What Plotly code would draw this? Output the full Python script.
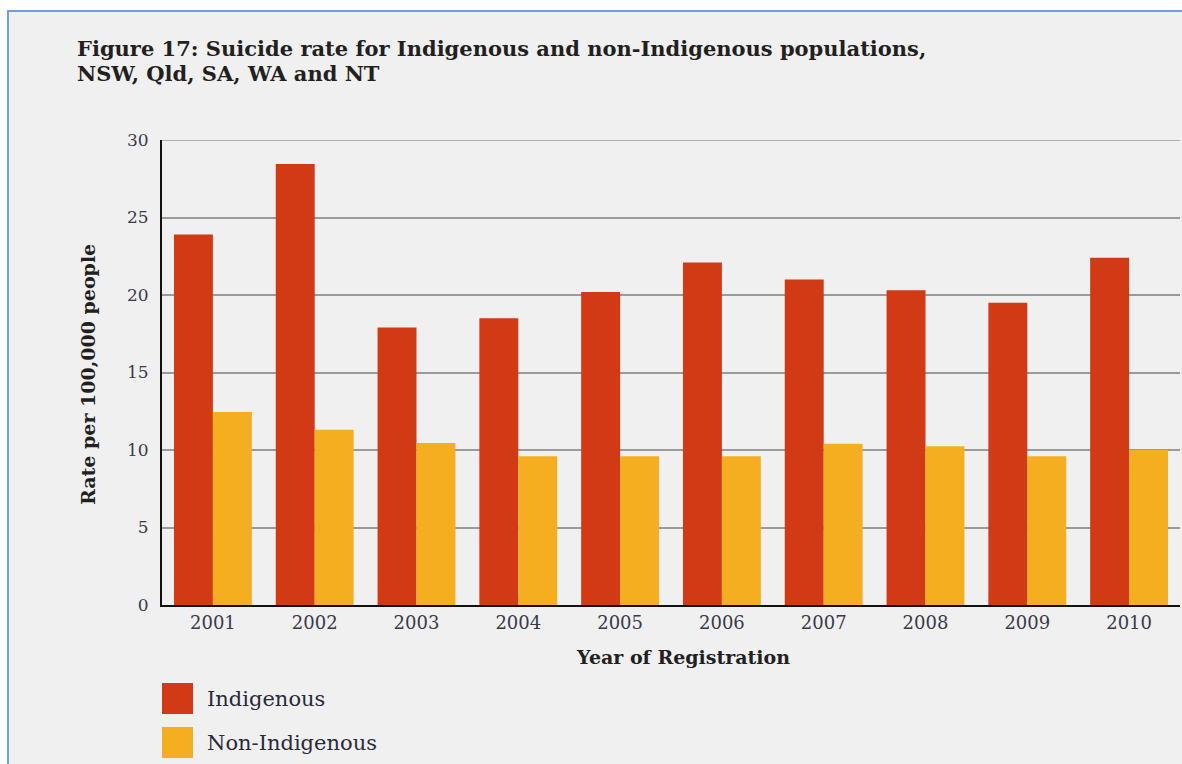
import plotly.graph_objects as go

years = ["2001", "2002", "2003", "2004", "2005", "2006", "2007", "2008", "2009", "2010"]
indigenous = [23.9, 28.45, 17.9, 18.5, 20.2, 22.1, 21.0, 20.3, 19.5, 22.4]
non_indigenous = [12.45, 11.3, 10.45, 9.6, 9.6, 9.6, 10.4, 10.25, 9.6, 10.0]
series_names = ["Indigenous", "Non-Indigenous"]
series_colors = ["#d23a15", "#f5ae1f"]
y_ticks = [0, 5, 10, 15, 20, 25, 30]

W, H = 1182, 764
ML, MR, MT, MB = 162, 2, 140, 159
PW, PH = W - ML - MR, H - MT - MB


def px(x):
    return (x - ML) / PW


def py(y):
    return (H - MB - y) / PH


fig = go.Figure()
for name, vals, col in zip(series_names, [indigenous, non_indigenous], series_colors):
    fig.add_trace(go.Bar(x=years, y=vals, name=name, marker=dict(color=col, line=dict(width=0)),
                         showlegend=False))

serif = "DejaVu Serif"
text_col = "#231f20"

shapes = [
    dict(type="rect", xref="paper", yref="paper", x0=px(8), x1=px(1200), y0=py(790), y1=py(11),
         fillcolor="#f0f0f0", line=dict(color="#6f9fdc", width=2), layer="below"),
    dict(type="line", xref="paper", yref="y", x0=0, x1=1, y0=y_ticks[-1], y1=y_ticks[-1],
         line=dict(color="#9a9a9a", width=1.5), layer="below"),
]
annotations = [
    dict(text="<b>Figure 17: Suicide rate for Indigenous and non-Indigenous populations,</b>",
         xref="paper", yref="paper", x=px(75), y=py(48), xanchor="left", yanchor="middle",
         showarrow=False, font=dict(family=serif, size=21, color=text_col)),
    dict(text="<b>NSW, Qld, SA, WA and NT</b>",
         xref="paper", yref="paper", x=px(75), y=py(73), xanchor="left", yanchor="middle",
         showarrow=False, font=dict(family=serif, size=21, color=text_col)),
    dict(text="<b>Rate per 100,000 people</b>", textangle=-90, xref="paper", yref="paper",
         x=px(88), y=py(375), xanchor="center", yanchor="middle", showarrow=False,
         font=dict(family=serif, size=19, color=text_col)),
    dict(text="<b>Year of Registration</b>", xref="paper", yref="paper",
         x=px(683), y=py(657), xanchor="center", yanchor="middle", showarrow=False,
         font=dict(family=serif, size=19, color=text_col)),
]
leg_rows = [(683, 714), (727, 758)]
for (top, bot), name, col in zip(leg_rows, series_names, series_colors):
    shapes.append(dict(type="rect", xref="paper", yref="paper", x0=px(162), x1=px(193),
                       y0=py(bot), y1=py(top), fillcolor=col, line=dict(width=0)))
    annotations.append(dict(text=name, xref="paper", yref="paper", x=px(205), y=py((top + bot) / 2),
                            xanchor="left", yanchor="middle", showarrow=False,
                            font=dict(family=serif, size=21, color="#2a2a3a")))

fig.update_layout(
    width=W, height=H,
    margin=dict(l=ML, r=MR, t=MT, b=MB),
    paper_bgcolor="white", plot_bgcolor="rgba(0,0,0,0)",
    barmode="group", bargap=0.235, bargroupgap=0,
    xaxis=dict(showline=True, linecolor="#111", linewidth=2, showgrid=False, ticks="",
               tickfont=dict(family=serif, size=18, color="#3a3a4a")),
    yaxis=dict(range=[0, 30], tickvals=y_ticks, showgrid=True, gridcolor="#9a9a9a", gridwidth=1.5,
               showline=True, linecolor="#111", linewidth=2, zeroline=False, ticks="",
               ticklabelstandoff=8,
               tickfont=dict(family=serif, size=17, color="#3a3a4a")),
    shapes=shapes, annotations=annotations,
    font=dict(family=serif),
)

fig.write_html("out.html", config={"displayModeBar": False},
               post_script="document.body.style.margin='0';document.body.style.overflow='hidden';")
